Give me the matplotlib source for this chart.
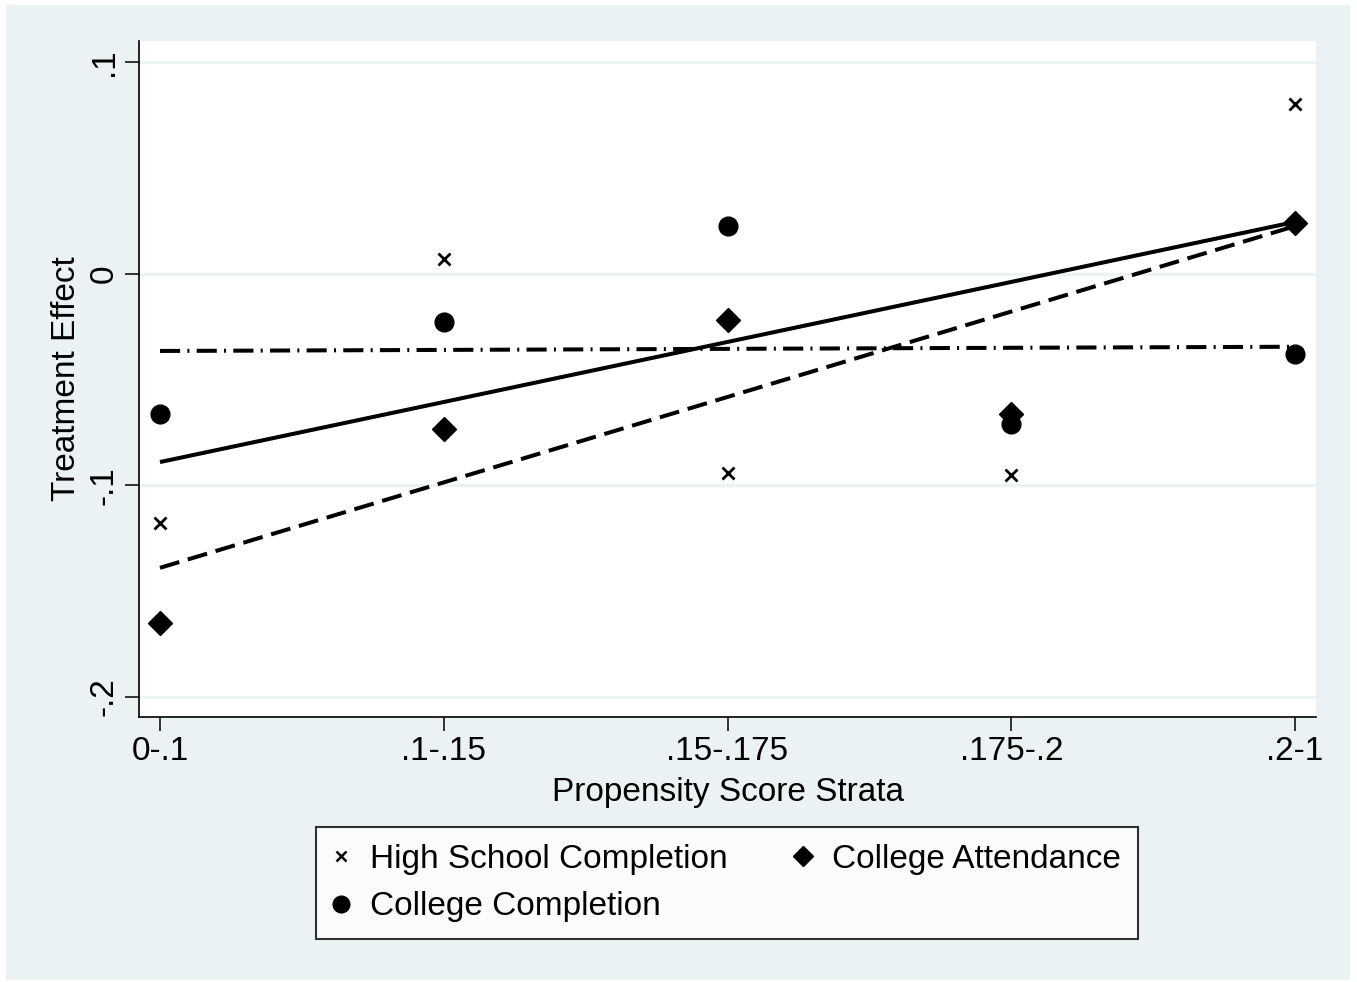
import matplotlib
matplotlib.use('Agg')
import matplotlib.pyplot as plt
from matplotlib.lines import Line2D
from matplotlib.patches import Rectangle

plt.rcParams['font.family'] = ['Liberation Sans', 'DejaVu Sans']

BG = '#EAF2F3'
FONT = 24

strata = ['0-.1', '.1-.15', '.15-.175', '.175-.2', '.2-1']
xpos = [1, 2, 3, 4, 5]

# treatment effect by stratum
hs_completion = [-0.118, 0.007, -0.094, -0.095, 0.080]
college_attendance = [-0.165, -0.0735, -0.022, -0.0665, 0.024]
college_completion = [-0.0665, -0.023, 0.0225, -0.071, -0.038]

# fitted lines, value at first and last stratum
fit_x = [1, 5]
fit_hs = [-0.089, 0.0245]
fit_attend = [-0.139, 0.0225]
fit_compl = [-0.0365, -0.0345]

yticks = [-0.2, -0.1, 0, 0.1]
yticklabels = ['-.2', '-.1', '0', '.1']

W, H = 1357, 982
fig = plt.figure(figsize=(W / 100, H / 100), dpi=100, facecolor='white')
fig.patches.append(Rectangle((6 / W, 2 / H), 1344 / W, 975 / H,
                             transform=fig.transFigure, facecolor=BG,
                             edgecolor='none', zorder=-10))

ax = fig.add_axes([139 / W, (H - 717) / H, (1316 - 139) / W, (717 - 41) / H])
ax.set_facecolor('white')

for y in yticks:
    ax.axhline(y, color=BG, lw=2, zorder=0)

lw = 2.9
ax.plot(fit_x, fit_hs, color='black', lw=lw, solid_capstyle='butt', zorder=2)
ax.plot(fit_x, fit_attend, color='black', lw=lw, linestyle=(0, (5, 2.2)), zorder=2)
ax.plot(fit_x, fit_compl, color='black', lw=lw,
        linestyle=(0, (5, 1.8, 0.5, 1.8)), zorder=2)

ax.plot(xpos, hs_completion, 'x', color='black', ms=8, mew=2, zorder=3)
ax.plot(xpos, college_attendance, 'D', color='black', ms=12, zorder=3)
ax.plot(xpos, college_completion, 'o', color='black', ms=13.5, zorder=3)

ax.set_xlim(0.926, 5.074)
ax.set_ylim(-0.2095, 0.11)
ax.set_xticks(xpos)
ax.set_xticklabels(strata, fontsize=FONT)
ax.set_yticks(yticks)
ax.set_yticklabels(yticklabels, fontsize=FONT, rotation=90, va='center')
ax.tick_params(axis='both', direction='out', length=10, width=1.1, pad=4)

for side in ['top', 'right']:
    ax.spines[side].set_visible(False)
for side in ['left', 'bottom']:
    ax.spines[side].set_linewidth(1.2)

ax.set_xlabel('Propensity Score Strata', fontsize=FONT, labelpad=7)
ax.set_ylabel('Treatment Effect', fontsize=FONT, labelpad=5)

handles = [
    Line2D([], [], marker='x', color='black', ls='none', ms=7, mew=1.8),
    Line2D([], [], marker='o', color='black', ls='none', ms=12),
    Line2D([], [], marker='D', color='black', ls='none', ms=10.5),
]
labels = ['High School Completion', 'College Completion', 'College Attendance']
leg = fig.legend(handles, labels, ncol=2, loc='center',
                 bbox_to_anchor=(727 / W, 1 - 883 / H), fontsize=FONT,
                 frameon=True, fancybox=False, edgecolor='black',
                 handlelength=0.5, handletextpad=0.62, columnspacing=2.0,
                 labelspacing=0.5, borderpad=0.5, borderaxespad=0)
leg.get_frame().set_linewidth(1.5)

fig.savefig('out.png', dpi=100, facecolor='white')
